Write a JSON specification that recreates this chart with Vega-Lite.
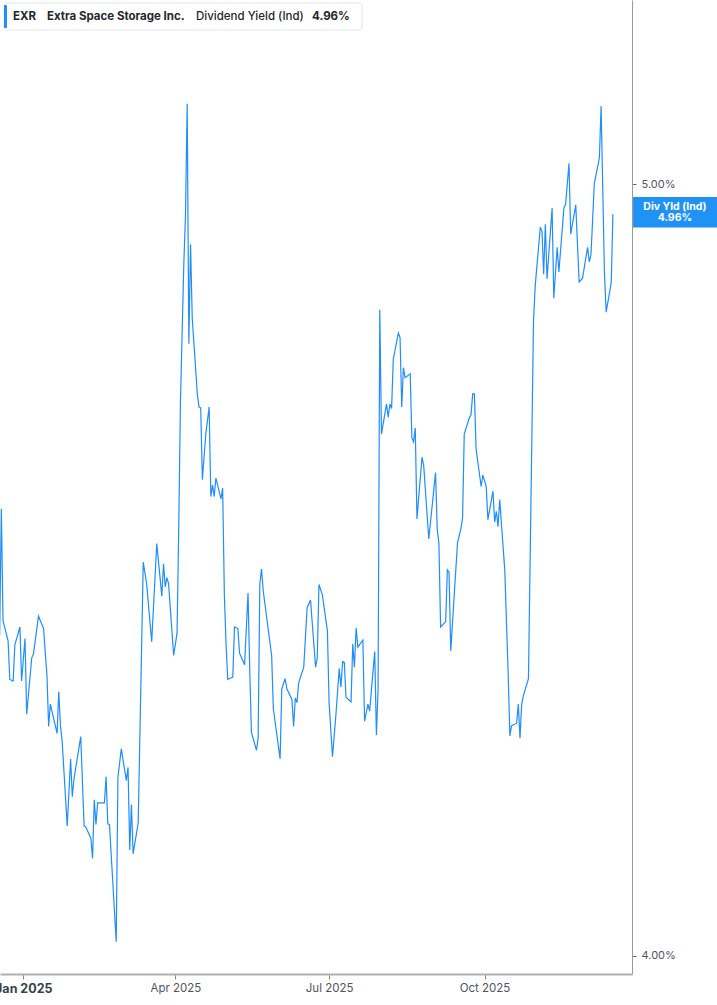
{
  "$schema": "https://vega.github.io/schema/vega-lite/v6.json",
  "width": 632,
  "height": 974,
  "autosize": {"type": "none"},
  "padding": {"left": 0, "top": 0, "right": 85, "bottom": 31},
  "background": "white",
  "config": {"view": {"stroke": null}, "font": "Inter"},
  "datasets": {
    "exr": [
      {"date": "2024-12-18", "yield": 4.415},
      {"date": "2024-12-19", "yield": 4.579},
      {"date": "2024-12-20", "yield": 4.434},
      {"date": "2024-12-23", "yield": 4.408},
      {"date": "2024-12-24", "yield": 4.358},
      {"date": "2024-12-26", "yield": 4.356},
      {"date": "2024-12-27", "yield": 4.403},
      {"date": "2024-12-30", "yield": 4.426},
      {"date": "2024-12-31", "yield": 4.356},
      {"date": "2025-01-02", "yield": 4.411},
      {"date": "2025-01-03", "yield": 4.313},
      {"date": "2025-01-06", "yield": 4.386},
      {"date": "2025-01-07", "yield": 4.391},
      {"date": "2025-01-10", "yield": 4.440},
      {"date": "2025-01-13", "yield": 4.424},
      {"date": "2025-01-15", "yield": 4.363},
      {"date": "2025-01-16", "yield": 4.297},
      {"date": "2025-01-17", "yield": 4.326},
      {"date": "2025-01-21", "yield": 4.288},
      {"date": "2025-01-22", "yield": 4.342},
      {"date": "2025-01-23", "yield": 4.298},
      {"date": "2025-01-24", "yield": 4.278},
      {"date": "2025-01-27", "yield": 4.168},
      {"date": "2025-01-29", "yield": 4.255},
      {"date": "2025-01-30", "yield": 4.206},
      {"date": "2025-01-31", "yield": 4.229},
      {"date": "2025-02-04", "yield": 4.284},
      {"date": "2025-02-06", "yield": 4.168},
      {"date": "2025-02-07", "yield": 4.167},
      {"date": "2025-02-10", "yield": 4.152},
      {"date": "2025-02-11", "yield": 4.126},
      {"date": "2025-02-12", "yield": 4.202},
      {"date": "2025-02-13", "yield": 4.170},
      {"date": "2025-02-14", "yield": 4.198},
      {"date": "2025-02-18", "yield": 4.198},
      {"date": "2025-02-19", "yield": 4.232},
      {"date": "2025-02-20", "yield": 4.171},
      {"date": "2025-02-21", "yield": 4.170},
      {"date": "2025-02-25", "yield": 4.018},
      {"date": "2025-02-26", "yield": 4.231},
      {"date": "2025-02-28", "yield": 4.268},
      {"date": "2025-03-03", "yield": 4.227},
      {"date": "2025-03-04", "yield": 4.244},
      {"date": "2025-03-05", "yield": 4.137},
      {"date": "2025-03-06", "yield": 4.196},
      {"date": "2025-03-07", "yield": 4.132},
      {"date": "2025-03-10", "yield": 4.172},
      {"date": "2025-03-13", "yield": 4.510},
      {"date": "2025-03-15", "yield": 4.482},
      {"date": "2025-03-18", "yield": 4.407},
      {"date": "2025-03-21", "yield": 4.534},
      {"date": "2025-03-24", "yield": 4.466},
      {"date": "2025-03-25", "yield": 4.508},
      {"date": "2025-03-26", "yield": 4.478},
      {"date": "2025-03-27", "yield": 4.490},
      {"date": "2025-03-28", "yield": 4.482},
      {"date": "2025-03-31", "yield": 4.389},
      {"date": "2025-04-02", "yield": 4.418},
      {"date": "2025-04-03", "yield": 4.554},
      {"date": "2025-04-04", "yield": 4.716},
      {"date": "2025-04-06", "yield": 4.896},
      {"date": "2025-04-07", "yield": 4.960},
      {"date": "2025-04-08", "yield": 5.104},
      {"date": "2025-04-09", "yield": 4.793},
      {"date": "2025-04-10", "yield": 4.922},
      {"date": "2025-04-11", "yield": 4.826},
      {"date": "2025-04-14", "yield": 4.728},
      {"date": "2025-04-15", "yield": 4.711},
      {"date": "2025-04-16", "yield": 4.710},
      {"date": "2025-04-17", "yield": 4.617},
      {"date": "2025-04-19", "yield": 4.676},
      {"date": "2025-04-21", "yield": 4.711},
      {"date": "2025-04-22", "yield": 4.595},
      {"date": "2025-04-23", "yield": 4.610},
      {"date": "2025-04-24", "yield": 4.595},
      {"date": "2025-04-25", "yield": 4.619},
      {"date": "2025-04-28", "yield": 4.592},
      {"date": "2025-04-29", "yield": 4.606},
      {"date": "2025-04-30", "yield": 4.468},
      {"date": "2025-05-01", "yield": 4.404},
      {"date": "2025-05-02", "yield": 4.358},
      {"date": "2025-05-05", "yield": 4.361},
      {"date": "2025-05-06", "yield": 4.426},
      {"date": "2025-05-08", "yield": 4.424},
      {"date": "2025-05-09", "yield": 4.392},
      {"date": "2025-05-12", "yield": 4.377},
      {"date": "2025-05-14", "yield": 4.470},
      {"date": "2025-05-15", "yield": 4.374},
      {"date": "2025-05-16", "yield": 4.290},
      {"date": "2025-05-19", "yield": 4.266},
      {"date": "2025-05-20", "yield": 4.282},
      {"date": "2025-05-21", "yield": 4.482},
      {"date": "2025-05-22", "yield": 4.501},
      {"date": "2025-05-23", "yield": 4.473},
      {"date": "2025-05-28", "yield": 4.389},
      {"date": "2025-05-29", "yield": 4.320},
      {"date": "2025-06-02", "yield": 4.255},
      {"date": "2025-06-03", "yield": 4.346},
      {"date": "2025-06-05", "yield": 4.359},
      {"date": "2025-06-06", "yield": 4.346},
      {"date": "2025-06-09", "yield": 4.332},
      {"date": "2025-06-10", "yield": 4.297},
      {"date": "2025-06-11", "yield": 4.334},
      {"date": "2025-06-12", "yield": 4.328},
      {"date": "2025-06-13", "yield": 4.354},
      {"date": "2025-06-16", "yield": 4.374},
      {"date": "2025-06-18", "yield": 4.451},
      {"date": "2025-06-20", "yield": 4.461},
      {"date": "2025-06-23", "yield": 4.374},
      {"date": "2025-06-24", "yield": 4.386},
      {"date": "2025-06-25", "yield": 4.481},
      {"date": "2025-06-27", "yield": 4.468},
      {"date": "2025-06-30", "yield": 4.421},
      {"date": "2025-07-01", "yield": 4.328},
      {"date": "2025-07-03", "yield": 4.258},
      {"date": "2025-07-05", "yield": 4.311},
      {"date": "2025-07-07", "yield": 4.372},
      {"date": "2025-07-08", "yield": 4.348},
      {"date": "2025-07-09", "yield": 4.381},
      {"date": "2025-07-10", "yield": 4.380},
      {"date": "2025-07-11", "yield": 4.335},
      {"date": "2025-07-14", "yield": 4.329},
      {"date": "2025-07-15", "yield": 4.404},
      {"date": "2025-07-16", "yield": 4.374},
      {"date": "2025-07-17", "yield": 4.425},
      {"date": "2025-07-18", "yield": 4.400},
      {"date": "2025-07-21", "yield": 4.409},
      {"date": "2025-07-22", "yield": 4.304},
      {"date": "2025-07-24", "yield": 4.326},
      {"date": "2025-07-25", "yield": 4.317},
      {"date": "2025-07-28", "yield": 4.394},
      {"date": "2025-07-29", "yield": 4.286},
      {"date": "2025-07-30", "yield": 4.346},
      {"date": "2025-07-31", "yield": 4.837},
      {"date": "2025-08-01", "yield": 4.676},
      {"date": "2025-08-04", "yield": 4.715},
      {"date": "2025-08-05", "yield": 4.698},
      {"date": "2025-08-06", "yield": 4.715},
      {"date": "2025-08-07", "yield": 4.709},
      {"date": "2025-08-08", "yield": 4.773},
      {"date": "2025-08-11", "yield": 4.807},
      {"date": "2025-08-12", "yield": 4.801},
      {"date": "2025-08-13", "yield": 4.711},
      {"date": "2025-08-14", "yield": 4.762},
      {"date": "2025-08-15", "yield": 4.749},
      {"date": "2025-08-18", "yield": 4.754},
      {"date": "2025-08-19", "yield": 4.671},
      {"date": "2025-08-20", "yield": 4.666},
      {"date": "2025-08-21", "yield": 4.684},
      {"date": "2025-08-22", "yield": 4.566},
      {"date": "2025-08-25", "yield": 4.646},
      {"date": "2025-08-26", "yield": 4.635},
      {"date": "2025-08-29", "yield": 4.540},
      {"date": "2025-09-02", "yield": 4.626},
      {"date": "2025-09-03", "yield": 4.553},
      {"date": "2025-09-04", "yield": 4.534},
      {"date": "2025-09-05", "yield": 4.426},
      {"date": "2025-09-08", "yield": 4.433},
      {"date": "2025-09-09", "yield": 4.500},
      {"date": "2025-09-10", "yield": 4.497},
      {"date": "2025-09-11", "yield": 4.395},
      {"date": "2025-09-15", "yield": 4.535},
      {"date": "2025-09-17", "yield": 4.553},
      {"date": "2025-09-18", "yield": 4.567},
      {"date": "2025-09-19", "yield": 4.676},
      {"date": "2025-09-22", "yield": 4.697},
      {"date": "2025-09-23", "yield": 4.701},
      {"date": "2025-09-24", "yield": 4.728},
      {"date": "2025-09-25", "yield": 4.728},
      {"date": "2025-09-26", "yield": 4.657},
      {"date": "2025-09-29", "yield": 4.608},
      {"date": "2025-09-30", "yield": 4.623},
      {"date": "2025-10-02", "yield": 4.608},
      {"date": "2025-10-03", "yield": 4.565},
      {"date": "2025-10-06", "yield": 4.602},
      {"date": "2025-10-07", "yield": 4.562},
      {"date": "2025-10-08", "yield": 4.576},
      {"date": "2025-10-09", "yield": 4.556},
      {"date": "2025-10-10", "yield": 4.591},
      {"date": "2025-10-13", "yield": 4.499},
      {"date": "2025-10-15", "yield": 4.365},
      {"date": "2025-10-16", "yield": 4.285},
      {"date": "2025-10-17", "yield": 4.298},
      {"date": "2025-10-20", "yield": 4.301},
      {"date": "2025-10-21", "yield": 4.326},
      {"date": "2025-10-22", "yield": 4.282},
      {"date": "2025-10-23", "yield": 4.326},
      {"date": "2025-10-24", "yield": 4.337},
      {"date": "2025-10-27", "yield": 4.359},
      {"date": "2025-10-30", "yield": 4.823},
      {"date": "2025-10-31", "yield": 4.868},
      {"date": "2025-11-03", "yield": 4.944},
      {"date": "2025-11-04", "yield": 4.939},
      {"date": "2025-11-05", "yield": 4.883},
      {"date": "2025-11-06", "yield": 4.948},
      {"date": "2025-11-07", "yield": 4.877},
      {"date": "2025-11-10", "yield": 4.969},
      {"date": "2025-11-11", "yield": 4.852},
      {"date": "2025-11-13", "yield": 4.918},
      {"date": "2025-11-14", "yield": 4.886},
      {"date": "2025-11-17", "yield": 4.969},
      {"date": "2025-11-18", "yield": 4.974},
      {"date": "2025-11-20", "yield": 5.027},
      {"date": "2025-11-21", "yield": 4.935},
      {"date": "2025-11-24", "yield": 4.973},
      {"date": "2025-11-26", "yield": 4.873},
      {"date": "2025-11-28", "yield": 4.878},
      {"date": "2025-12-01", "yield": 4.918},
      {"date": "2025-12-02", "yield": 4.899},
      {"date": "2025-12-03", "yield": 4.908},
      {"date": "2025-12-05", "yield": 5.001},
      {"date": "2025-12-08", "yield": 5.034},
      {"date": "2025-12-09", "yield": 5.101},
      {"date": "2025-12-11", "yield": 4.883},
      {"date": "2025-12-12", "yield": 4.834},
      {"date": "2025-12-15", "yield": 4.872},
      {"date": "2025-12-16", "yield": 4.961}
    ]
  },
  "layer": [
    {
      "data": {"name": "exr"},
      "mark": {"type": "line", "color": "#1f8efa", "strokeWidth": 1.2},
      "encoding": {
        "x": {
          "field": "date",
          "type": "temporal",
          "scale": {
            "type": "utc",
            "domain": [
              {"year": 2024, "month": 12, "date": 18, "hours": 5, "utc": true},
              {"year": 2025, "month": 12, "date": 27, "hours": 7, "utc": true}
            ]
          },
          "axis": {
            "title": null,
            "grid": false,
            "values": [
              {"year": 2025, "month": 1, "date": 1, "utc": true},
              {"year": 2025, "month": 4, "date": 1, "utc": true},
              {"year": 2025, "month": 7, "date": 1, "utc": true},
              {"year": 2025, "month": 10, "date": 1, "utc": true}
            ],
            "labelExpr": "utcFormat(datum.value, '%b %Y')",
            "domainColor": "#b0b0b0",
            "domainWidth": 2,
            "tickColor": "#8a8a8a",
            "tickSize": 5,
            "labelPadding": 3,
            "labelFont": "Inter",
            "labelFontSize": {"condition": {"test": "utcmonth(datum.value) === 0", "value": 12.5}, "value": 11.5},
            "labelFontWeight": {"condition": {"test": "utcmonth(datum.value) === 0", "value": "bold"}, "value": "normal"},
            "labelColor": {"condition": {"test": "utcmonth(datum.value) === 0", "value": "#3a3f48"}, "value": "#4e5561"},
            "labelOverlap": false,
            "labelFlush": false
          }
        },
        "y": {
          "field": "yield",
          "type": "quantitative",
          "scale": {"domain": [3.9763, 5.2385], "nice": false, "zero": false},
          "axis": {
            "orient": "right",
            "title": null,
            "grid": false,
            "values": [4, 5],
            "labelExpr": "format(datum.value, '.2f') + '%'",
            "domainColor": "#9a9a9a",
            "domainWidth": 1,
            "tickColor": "#666666",
            "tickSize": 4,
            "labelPadding": 5,
            "labelFont": "Inter",
            "labelFontSize": 11,
            "labelColor": "#4e5561"
          }
        }
      }
    },
    {
      "data": {"values": [{}]},
      "mark": {"type": "rect", "fill": "white", "stroke": "#e4e6ea", "strokeWidth": 1, "cornerRadius": 3},
      "encoding": {
        "x": {"datum": {"year": 2024, "month": 12, "date": 20, "hours": 14, "utc": true}, "type": "temporal"},
        "x2": {"datum": {"year": 2025, "month": 7, "date": 20, "hours": 12, "utc": true}},
        "y": {"datum": 5.2346, "type": "quantitative"},
        "y2": {"datum": 5.1996}
      }
    },
    {
      "data": {"values": [{}]},
      "mark": {"type": "rect", "fill": "#1f8efa", "cornerRadius": 1},
      "encoding": {
        "x": {"datum": {"year": 2024, "month": 12, "date": 20, "hours": 14, "utc": true}, "type": "temporal"},
        "x2": {"datum": {"year": 2024, "month": 12, "date": 22, "hours": 8, "utc": true}},
        "y": {"datum": 5.232, "type": "quantitative"},
        "y2": {"datum": 5.2022}
      }
    },
    {
      "data": {"values": [{}]},
      "mark": {"type": "text", "text": "EXR", "align": "left", "baseline": "middle", "font": "Inter", "fontSize": 11.5, "fontWeight": "bold", "color": "#23272e"},
      "encoding": {
        "x": {"datum": {"year": 2024, "month": 12, "date": 25, "hours": 22, "utc": true}, "type": "temporal"},
        "y": {"datum": 5.2171, "type": "quantitative"}
      }
    },
    {
      "data": {"values": [{}]},
      "mark": {"type": "text", "text": "Extra Space Storage Inc.", "align": "left", "baseline": "middle", "font": "Inter", "fontSize": 11.5, "fontWeight": "bold", "color": "#23272e"},
      "encoding": {
        "x": {"datum": {"year": 2025, "month": 1, "date": 15, "hours": 1, "utc": true}, "type": "temporal"},
        "y": {"datum": 5.2171, "type": "quantitative"}
      }
    },
    {
      "data": {"values": [{}]},
      "mark": {"type": "text", "text": "Dividend Yield (Ind)", "align": "left", "baseline": "middle", "font": "Inter", "fontSize": 11.5, "fontWeight": 500, "color": "#23272e"},
      "encoding": {
        "x": {"datum": {"year": 2025, "month": 4, "date": 13, "hours": 5, "utc": true}, "type": "temporal"},
        "y": {"datum": 5.2171, "type": "quantitative"}
      }
    },
    {
      "data": {"values": [{}]},
      "mark": {"type": "text", "text": "4.96%", "align": "left", "baseline": "middle", "font": "Inter", "fontSize": 11.5, "fontWeight": "bold", "color": "#23272e"},
      "encoding": {
        "x": {"datum": {"year": 2025, "month": 6, "date": 20, "hours": 22, "utc": true}, "type": "temporal"},
        "y": {"datum": 5.2171, "type": "quantitative"}
      }
    },
    {
      "data": {"values": [{}]},
      "mark": {"type": "rect", "fill": "#2192f5"},
      "encoding": {
        "x": {"datum": {"year": 2025, "month": 12, "date": 27, "hours": 22, "utc": true}, "type": "temporal"},
        "x2": {"datum": {"year": 2026, "month": 2, "date": 16, "hours": 12, "utc": true}},
        "y": {"datum": 4.9831, "type": "quantitative"},
        "y2": {"datum": 4.9436}
      }
    },
    {
      "data": {"values": [{}]},
      "mark": {"type": "text", "text": "Div Yld (Ind)", "align": "center", "baseline": "middle", "font": "Inter", "fontSize": 10.5, "fontWeight": "bold", "color": "white"},
      "encoding": {
        "x": {"datum": {"year": 2026, "month": 1, "date": 21, "hours": 17, "utc": true}, "type": "temporal"},
        "y": {"datum": 4.9700, "type": "quantitative"}
      }
    },
    {
      "data": {"values": [{}]},
      "mark": {"type": "text", "text": "4.96%", "align": "center", "baseline": "middle", "font": "Inter", "fontSize": 10.5, "fontWeight": "bold", "color": "white"},
      "encoding": {
        "x": {"datum": {"year": 2026, "month": 1, "date": 21, "hours": 17, "utc": true}, "type": "temporal"},
        "y": {"datum": 4.9555, "type": "quantitative"}
      }
    }
  ]
}
